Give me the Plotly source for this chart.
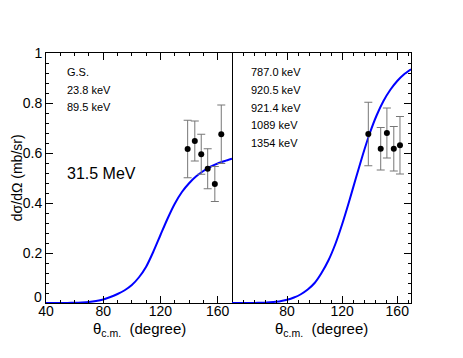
import plotly.graph_objects as go

# model curves
theta_curve = [40, 45, 50, 55, 60, 65, 70, 75, 80, 85, 90, 95, 100, 105, 110,
               115, 120, 125, 130, 135, 140, 145, 150, 155, 160, 165, 170]
gs_curve = [0.0, 0.0, 0.0, 0.0005, 0.001, 0.002, 0.004, 0.008, 0.014, 0.024, 0.036,
            0.051, 0.072, 0.103, 0.145, 0.205, 0.272, 0.338, 0.397, 0.444, 0.479, 0.507,
            0.528, 0.545, 0.558, 0.568, 0.577]
exc_curve = [0.0, 0.0, 0.0, 0.0, 0.001, 0.002, 0.004, 0.007, 0.013, 0.022, 0.035,
             0.054, 0.08, 0.12, 0.17, 0.235, 0.315, 0.405, 0.50, 0.593, 0.678, 0.75,
             0.808, 0.853, 0.888, 0.915, 0.935]

# data points
gs_theta = [139, 144, 148.5, 153, 158, 162.5]
gs_y = [0.616, 0.648, 0.595, 0.537, 0.476, 0.675]
gs_err = [0.115, 0.08, 0.08, 0.08, 0.07, 0.117]

exc_theta = [139, 148, 152.5, 157.5, 162]
exc_y = [0.676, 0.617, 0.68, 0.617, 0.631]
exc_err = [0.127, 0.085, 0.1, 0.089, 0.115]

gs_labels = ['G.S.', '23.8 keV', '89.5 keV']
exc_labels = ['787.0 keV', '920.5 keV', '921.4 keV', '1089 keV', '1354 keV']

FONT = 'Liberation Sans, Arial, sans-serif'

fig = go.Figure()
fig.add_trace(go.Scatter(x=theta_curve, y=gs_curve, mode='lines',
                         line=dict(color='#0000ff', width=2, shape='spline', smoothing=0.6),
                         xaxis='x', yaxis='y'))
fig.add_trace(go.Scatter(x=gs_theta, y=gs_y, mode='markers',
                         marker=dict(color='black', size=6),
                         error_y=dict(type='data', array=gs_err, color='#777', thickness=1, width=4),
                         xaxis='x', yaxis='y'))
fig.add_trace(go.Scatter(x=theta_curve, y=exc_curve, mode='lines',
                         line=dict(color='#0000ff', width=2, shape='spline', smoothing=0.6),
                         xaxis='x2', yaxis='y2'))
fig.add_trace(go.Scatter(x=exc_theta, y=exc_y, mode='markers',
                         marker=dict(color='black', size=6),
                         error_y=dict(type='data', array=exc_err, color='#777', thickness=1, width=4),
                         xaxis='x2', yaxis='y2'))

split = 186 / 365
xcommon = dict(range=[40, 170], showline=True, linecolor='black', linewidth=1, mirror='allticks',
               ticks='inside', ticklen=7, tickcolor='black', showgrid=False, zeroline=False,
               ticklabelstandoff=-5,
               tickfont=dict(size=14, family=FONT, color='black'))
ycommon = dict(range=[0, 1], showline=True, linecolor='black', linewidth=1,
               ticks='inside', ticklen=7, tickcolor='black', showgrid=False, zeroline=False,
               tickvals=[0, 0.2, 0.4, 0.6, 0.8, 1],
               tickfont=dict(size=14, family=FONT, color='black'),
               minor=dict(dtick=0.04, tick0=0, ticks='inside', ticklen=3, tickcolor='black'))

# page has an 8px body margin, so the figure is drawn 8px smaller
fig.update_layout(
    width=455, height=350,
    margin=dict(l=38, r=52, t=45, b=55),
    plot_bgcolor='white', paper_bgcolor='white',
    showlegend=False,
    xaxis=dict(xcommon, domain=[0, split], anchor='y',
               tickvals=[40, 80, 120, 160], ticktext=['40', '80', '120', '160'],
               minor=dict(dtick=10, tick0=40, ticks='inside', ticklen=3, tickcolor='black')),
    yaxis=dict(ycommon, domain=[0, 1], anchor='x', mirror=True,
               ticktext=['', '0.2', '0.4', '0.6', '0.8', '1']),
    xaxis2=dict(xcommon, domain=[split, 1], anchor='y2',
                tickvals=[40, 80, 120, 160], ticktext=['', '80', '120', '160'],
                minor=dict(dtick=8, tick0=40, ticks='inside', ticklen=3, tickcolor='black')),
    yaxis2=dict(ycommon, domain=[0, 1], anchor='x2', side='right', mirror=False,
                showticklabels=False),
)

annotations = []
for i, t in enumerate(gs_labels):
    annotations.append(dict(x=53.3, y=0.923 - i * 0.07, xref='x', yref='y', text=t,
                            showarrow=False, xanchor='left', yanchor='middle',
                            font=dict(size=11, family=FONT, color='black')))
for i, t in enumerate(exc_labels):
    annotations.append(dict(x=52.6, y=0.923 - i * 0.0705, xref='x2', yref='y2', text=t,
                            showarrow=False, xanchor='left', yanchor='middle',
                            font=dict(size=11, family=FONT, color='black')))
annotations.append(dict(x=53.3, y=0.519, xref='x', yref='y', text='31.5 MeV',
                        showarrow=False, xanchor='left', yanchor='middle',
                        font=dict(size=16, family=FONT, color='black')))
# the "0" label sits a little above the "40" label, as in the original
annotations.append(dict(x=-0.005, y=0.026, xref='paper', yref='paper', text='0',
                        showarrow=False, xanchor='right', yanchor='middle',
                        font=dict(size=14, family=FONT, color='black')))
annotations.append(dict(x=-0.079, y=0.5, xref='paper', yref='paper', text='dσ/dΩ (mb/sr)',
                        textangle=-90, showarrow=False, xanchor='center', yanchor='middle',
                        font=dict(size=14, family=FONT, color='black')))
for xc in [0.2575, 0.756]:
    annotations.append(dict(x=xc, y=-0.104, xref='paper', yref='paper',
                            text='θ<sub>c.m.</sub>\u00a0\u00a0(degree)',
                            showarrow=False, xanchor='center', yanchor='middle',
                            font=dict(size=15, family=FONT, color='black')))
fig.update_layout(annotations=annotations)

fig.write_html('out.html')
